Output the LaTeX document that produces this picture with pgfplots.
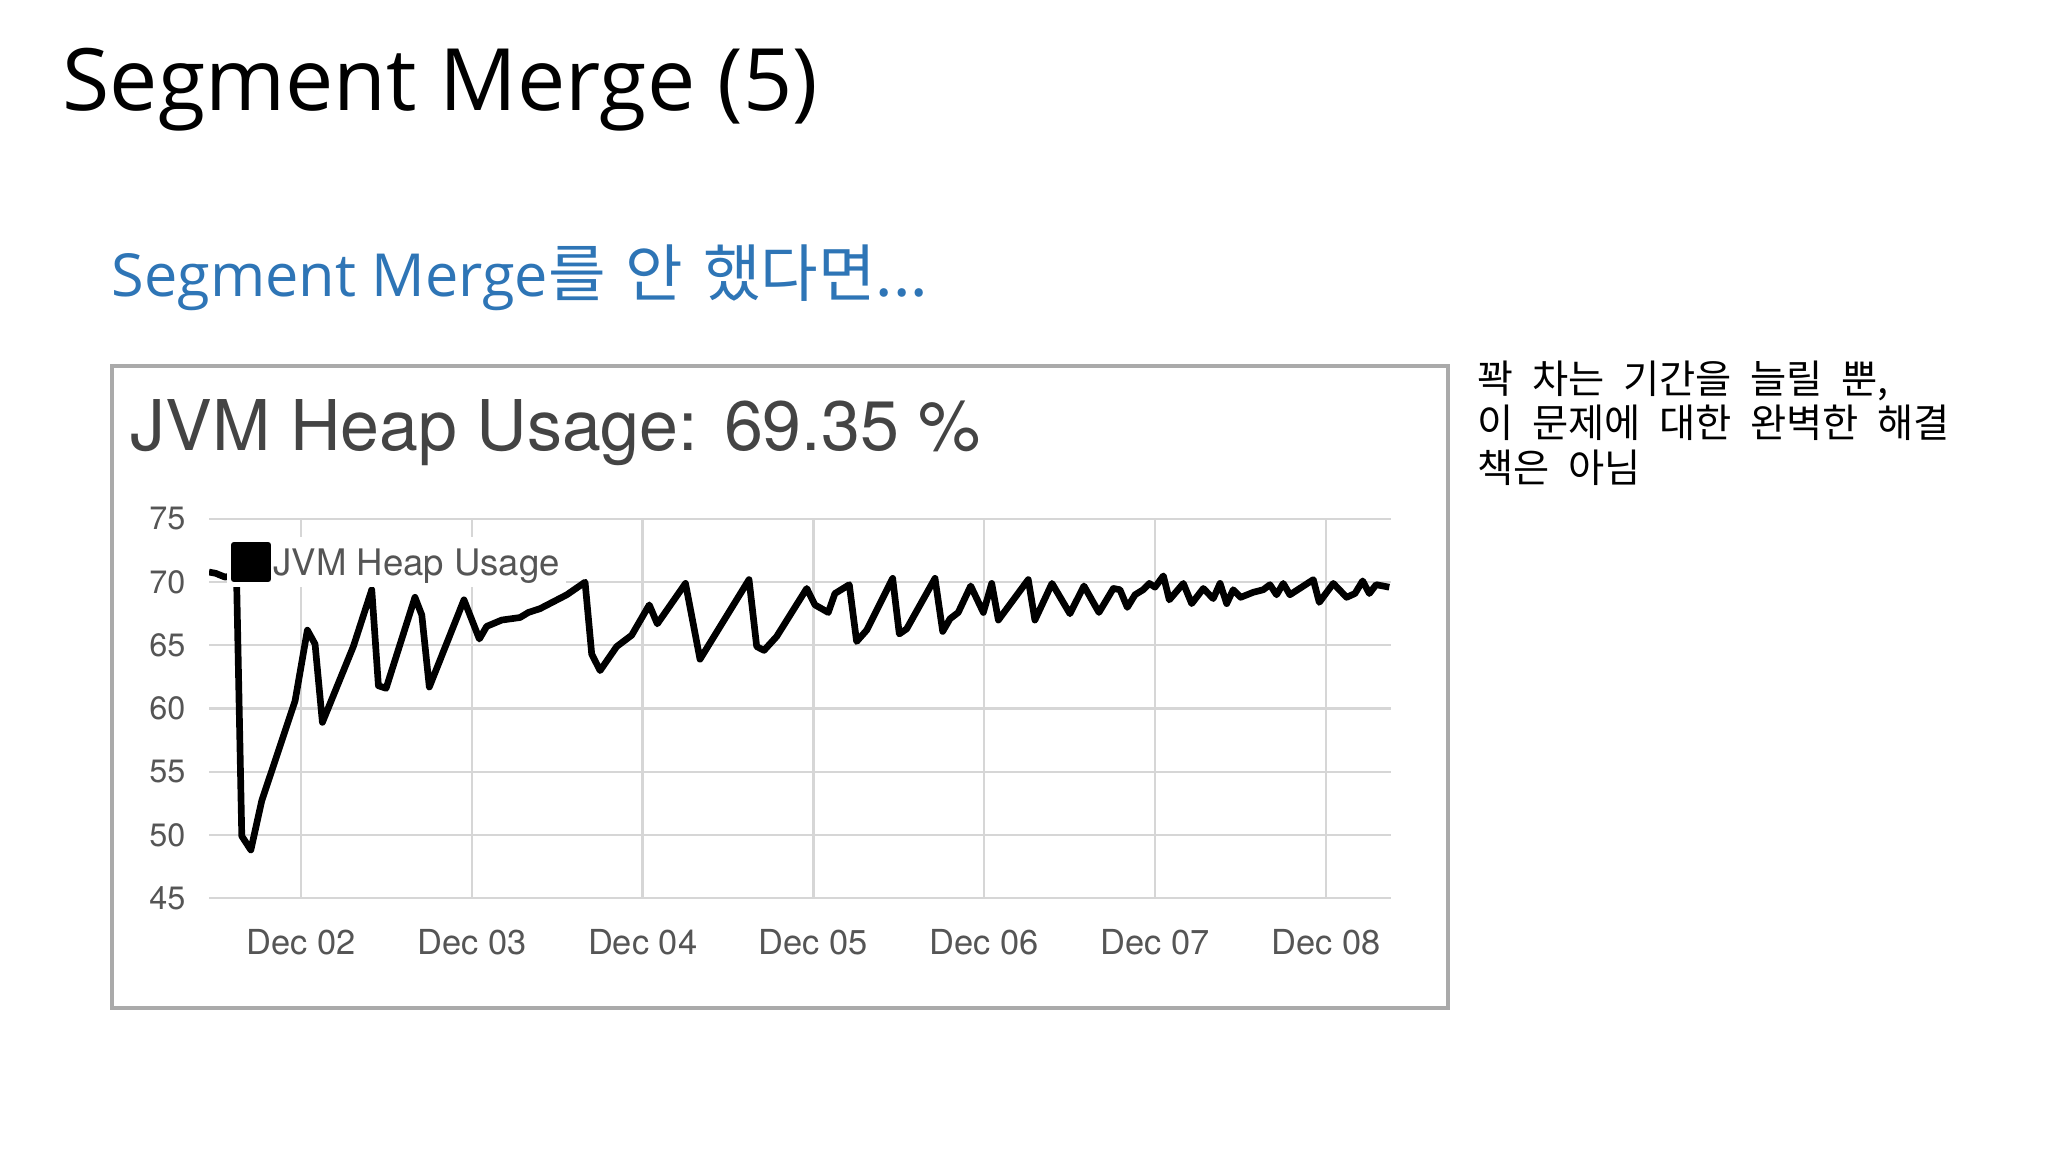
\documentclass[border=0pt]{standalone}
\usepackage{fontspec}
\usepackage{pgfplots}
\usepackage{pgfplotstable}
\pgfplotsset{compat=1.18}
\setmainfont{Open Sans}
\newfontfamily\heros{TeX Gyre Heros}
\newfontfamily\kr{Noto Sans CJK KR}
\newcommand\notefont{\kr\fontsize{11.2}{12}\selectfont\spaceskip=1.85mm\relax}
\definecolor{subblue}{RGB}{46,117,182}
\definecolor{ticktext}{RGB}{85,85,85}
\definecolor{ttl}{RGB}{68,68,68}
\definecolor{gridc}{RGB}{214,214,214}
\definecolor{baseln}{RGB}{200,200,204}
\definecolor{framec}{RGB}{170,170,170}

% day 0 = Dec 02
\pgfplotstableread{
day heap
-0.539 70.8
-0.50 70.7
-0.445 70.4
-0.41 70.5
-0.378 70.6
-0.347 49.9
-0.294 48.8
-0.230 52.7
-0.035 60.6
0.037 66.2
0.082 65.1
0.125 58.9
0.306 64.9
0.414 69.4
0.453 61.8
0.498 61.6
0.667 68.8
0.707 67.4
0.751 61.7
0.954 68.6
1.044 65.5
1.087 66.5
1.175 67.0
1.282 67.2
1.331 67.6
1.399 67.9
1.556 69.0
1.663 70.0
1.702 64.3
1.751 63.0
1.848 64.9
1.936 65.8
2.039 68.2
2.086 66.7
2.251 69.9
2.336 63.9
2.623 70.2
2.668 64.9
2.711 64.6
2.785 65.7
2.961 69.5
3.009 68.2
3.087 67.6
3.126 69.1
3.210 69.8
3.253 65.3
3.312 66.2
3.464 70.3
3.503 65.9
3.546 66.3
3.712 70.3
3.757 66.1
3.800 67.1
3.848 67.6
3.921 69.7
3.995 67.6
4.044 69.9
4.083 67.0
4.258 70.2
4.297 67.0
4.397 69.9
4.502 67.5
4.584 69.7
4.672 67.6
4.756 69.5
4.795 69.4
4.838 68.0
4.883 69.0
4.931 69.4
4.967 69.9
5.000 69.6
5.049 70.5
5.084 68.6
5.166 69.9
5.215 68.3
5.283 69.5
5.341 68.7
5.381 69.9
5.420 68.3
5.458 69.4
5.502 68.8
5.576 69.2
5.634 69.4
5.673 69.8
5.712 69.0
5.751 69.9
5.790 69.0
5.927 70.2
5.962 68.4
6.044 69.9
6.122 68.8
6.171 69.1
6.216 70.1
6.255 69.1
6.295 69.8
6.372 69.6
}\heapdata

\begin{document}
\begin{tikzpicture}[x=0.1mm,y=0.1mm]
\fill[white] (0,0) rectangle (2048,1152);

% slide title and subtitle
\node[anchor=base west,inner sep=0pt,font=\fontsize{24.5}{29}\selectfont] at (62,1041) {Segment Merge (5)};
\node[anchor=base west,inner sep=0pt,text=subblue,font=\fontsize{16.9}{20}\selectfont] at (111,855)
  {Segment Merge{\kr\fontsize{17.8}{20}\selectfont\spaceskip=2.0mm\relax 를 안 했다면...}};

% chart frame
\draw[framec,line width=1.14pt] (112,144) rectangle (1448,786);
\node[anchor=base west,inner sep=0pt,text=ttl,font=\heros\fontsize{19.9}{24}\selectfont] at (130,701) {JVM Heap Usage: 69.35 \%};

\begin{axis}[
  at={(20.9mm,25.4mm)}, anchor=south west,
  scale only axis, width=118.2mm, height=37.9mm,
  xmin=-0.539, xmax=6.382, ymin=45, ymax=75,
  xtick={0,1,2,3,4,5,6},
  xticklabels={Dec 02,Dec 03,Dec 04,Dec 05,Dec 06,Dec 07,Dec 08},
  ytick={50,55,60,65,70,75},
  extra y ticks={45},
  extra y tick style={grid style={baseln,line width=1.7pt}},
  grid=major,
  major grid style={gridc,line width=0.65pt},
  axis line style={draw=none},
  major tick length=0pt,
  /pgf/number format/assume math mode=true,
  yticklabel style={font=\heros\fontsize{9.2}{11}\selectfont,text=ticktext,anchor=east,inner sep=0pt,xshift=-2.3mm},
  xticklabel style={font=\heros\fontsize{9.8}{11}\selectfont,text=ticktext,anchor=base,inner sep=0pt,yshift=-5.7mm},
  legend style={at={(axis description cs:0.0144,0.955)},anchor=north west,draw=none,fill=white,
    inner xsep=0.4mm,inner ysep=0.5mm,nodes={inner sep=0.2mm},cells={anchor=base west},
    font=\heros\fontsize{10.4}{12}\selectfont,text=ticktext},
  legend image code/.code={\fill[black] (0mm,-0.4mm) rectangle (3.4mm,3.0mm);},
]
\addplot[black,line width=1.9pt,line join=round] table[x=day,y=heap]{\heapdata};
\addlegendentry{JVM Heap Usage}
\end{axis}

% side note
\node[anchor=base west,inner sep=0pt,font=\notefont] at (1477,758.5) {꽉 차는 기간을 늘릴 뿐,};
\node[anchor=base west,inner sep=0pt,font=\notefont] at (1477,714) {이 문제에 대한 완벽한 해결};
\node[anchor=base west,inner sep=0pt,font=\notefont] at (1477,669.5) {책은 아님};
\end{tikzpicture}
\end{document}
